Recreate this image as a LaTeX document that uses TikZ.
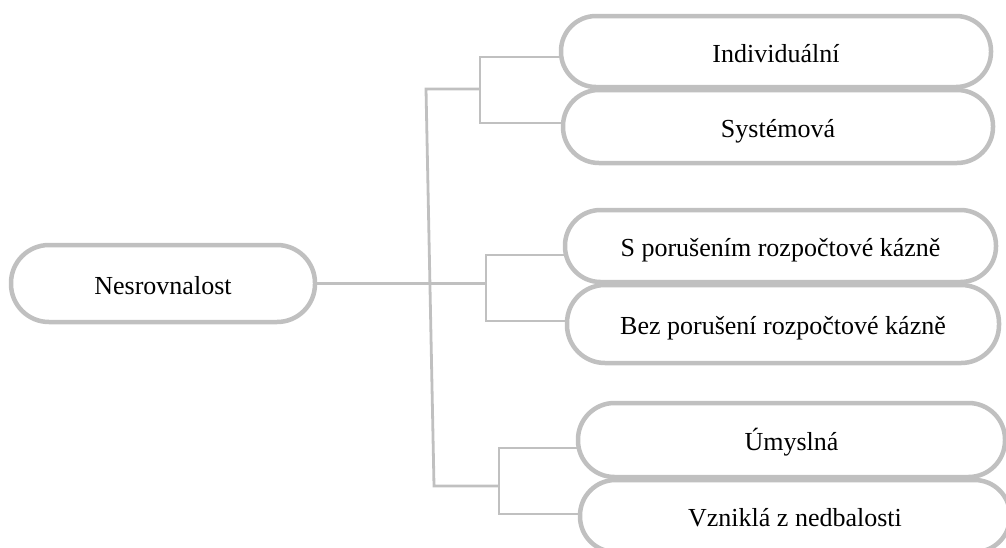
\documentclass[tikz,border=0pt]{standalone}
\usepackage{fontspec}
\setmainfont{Liberation Serif}
\definecolor{lg}{RGB}{192,192,192}
\tikzset{
  pill/.style={draw=lg, line width=4.5pt, fill=white, rounded corners=#1,
    inner sep=0pt, outer sep=0pt, text=black,
    font=\fontsize{26}{30}\selectfont, text height=24pt, text depth=3pt},
  conn/.style={draw=lg, line width=2.8pt, line join=miter},
}
\begin{document}
\begin{tikzpicture}[x=1pt,y=-1pt]
\clip (0,0) rectangle (1006,547);
% nodes
\node[pill=38pt, minimum width=304pt, minimum height=77pt] (N) at (163,283.5) {Nesrovnalost};
\node[pill=35pt, minimum width=430pt, minimum height=71pt] (I) at (776,51.5) {Individuální};
\node[pill=36pt, minimum width=430pt, minimum height=73pt] (Sy) at (778,126.5) {Systémová};
\node[pill=35.5pt, minimum width=431pt, minimum height=72pt] (P) at (780.5,246) {S porušením rozpočtové kázně};
\node[pill=38pt, minimum width=432pt, minimum height=78pt] (B) at (783,324) {Bez porušení rozpočtové kázně};
\node[pill=36.5pt, minimum width=427pt, minimum height=74pt] (U) at (791.5,440) {Úmyslná};
\node[pill=35.5pt, minimum width=430pt, minimum height=72pt] (V) at (795,516) {Vzniklá z nedbalosti};
% junction coordinates
\coordinate (t1) at (426,89);
\coordinate (tb) at (434,486);
\coordinate (s1) at (480,89);
\coordinate (s1a) at (480,57);
\coordinate (s1b) at (480,123);
\coordinate (s2) at (486,283.5);
\coordinate (s2a) at (486,255);
\coordinate (s2b) at (486,321);
\coordinate (s3) at (499,486);
\coordinate (s3a) at (499,448);
\coordinate (s3b) at (499,514);
% connectors
\draw[conn] (N.east) -- (s2);
\draw[conn] (s1) -- (t1) -- (tb) -- (s3);
\draw[conn] (s1a -| I.west) -- (s1a) -- (s1b) -- (s1b -| Sy.west);
\draw[conn] (s2a -| P.west) -- (s2a) -- (s2b) -- (s2b -| B.west);
\draw[conn] (s3a -| U.west) -- (s3a) -- (s3b) -- (s3b -| V.west);
\end{tikzpicture}
\end{document}
